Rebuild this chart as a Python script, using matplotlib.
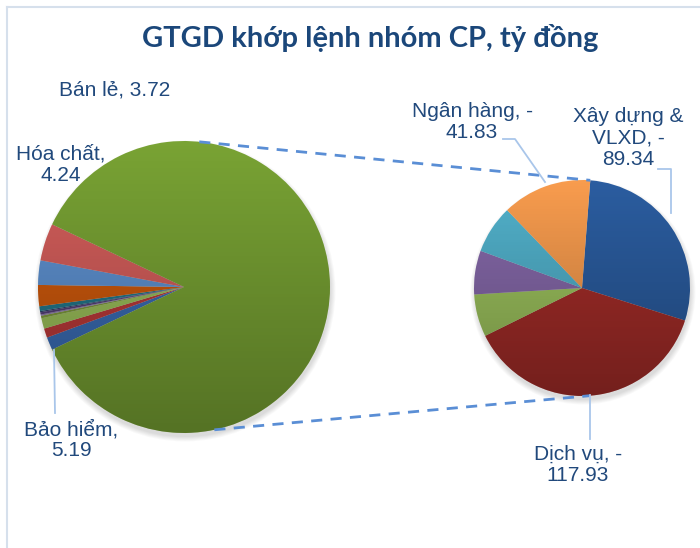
import numpy as np
import matplotlib.pyplot as plt
from matplotlib.patches import Circle

# pie phải: các nhóm được tách ra (giá trị âm, vẽ theo trị tuyệt đối)
right_names = ['Xây dựng &\nVLXD', 'Dịch vụ', '', '', '', 'Ngân hàng']
right_values = [-89.34, -117.93, -19.8, -20.4, -22.5, -41.83]
right_colors = ['#2B5DA0', '#A52D29', '#9EC45E', '#8669AA', '#52B2CC', '#F89C4E']

# pie trái: các nhóm còn lại, theo chiều kim đồng hồ từ dưới lên
left_names = ['Bảo hiểm', 'Bán lẻ', 'Hóa chất', '', '', '', '', '', '', '', '']
left_values = [5.19, 3.72, 4.24, 1.0, 0.5, 0.9, 0.5, 1.9, 8.5, 9.8, 15.0]
left_colors = ['#3B6DB5', '#BC3A3A', '#9CC05A', '#7E9B3C', '#8C7BAA', '#55407A',
               '#2E3F6B', '#23788C', '#D05A0C', '#5F93D3', '#D65F5C']
other_color = '#79A334'

txt_color = '#21497C'
lead_color = '#A9C6EA'

fig = plt.figure(figsize=(7, 5.48), dpi=100)
ax = fig.add_axes([0, 0, 1, 1])
H = 548


def shade(cx, cy, r):
    # bóng mờ phía dưới
    for k in range(6):
        ax.add_patch(Circle((cx + 1, cy - 4), r + k * 0.9, color='black',
                            alpha=0.025, lw=0, zorder=1))


def gradient(cx, cy, r):
    g = np.zeros((200, 2, 4))
    g[:, :, 3] = np.linspace(0.0, 0.3, 200)[:, None]
    im = ax.imshow(g, extent=[cx - r, cx + r, cy - r, cy + r], origin='upper',
                   zorder=3, interpolation='bilinear')
    im.set_clip_path(Circle((cx, cy), r, transform=ax.transData))


# pie trái
lc, lr = (184, H - 287), 146
other = sum(abs(v) for v in right_values)
vals_l = left_values + [other]
small_deg = 360 * sum(left_values) / sum(vals_l)
shade(*lc, lr)
w1, _ = ax.pie(vals_l, colors=left_colors + [other_color], center=lc, radius=lr,
               startangle=180 + small_deg / 2, counterclock=False,
               wedgeprops=dict(linewidth=0))
for w in w1:
    w.set_zorder(2)
gradient(*lc, lr)

# pie phải
rc, rr = (582, H - 288), 108
shade(*rc, rr)
w2, _ = ax.pie([abs(v) for v in right_values], colors=right_colors, center=rc,
               radius=rr, startangle=85.6, counterclock=False,
               wedgeprops=dict(linewidth=0))
for w in w2:
    w.set_zorder(2)
gradient(*rc, rr)

# đường nối hai pie
def pt(c, r, a):
    return c[0] + r * np.cos(np.radians(a)), c[1] + r * np.sin(np.radians(a))

for a1, a2 in [(84, 85.6), (-78, -86)]:
    p1, p2 = pt(lc, lr, a1), pt(rc, rr, a2)
    ax.plot([p1[0], p2[0]], [p1[1], p2[1]], ls=(0, (4, 3)), color='#5A8ED5',
            lw=2, zorder=4)

# nhãn
def lab(name, v, wrap):
    s = '-' if v < 0 else ''
    if wrap:
        return f'{name}, {s}\n{abs(v):.2f}'
    return f'{name}, {s}{abs(v):.2f}'

labels = [
    (lab(left_names[1], left_values[1], False), 115, 90),
    (lab(left_names[2], left_values[2], True), 61, 165),
    (lab(left_names[0], left_values[0], True), 71, 440),
    (lab(right_names[5], right_values[5], True), 472, 122),
    (lab(right_names[0], right_values[0], True), 628, 138),
    (lab(right_names[1], right_values[1], True), 578, 465),
]
for s, x, y in labels:
    ax.text(x, H - y, s.replace(', \n', ',\n'), ha='center', va='center',
            multialignment='center', fontsize=15, color=txt_color,
            family='Liberation Sans', linespacing=1.15, zorder=6)

leaders = [
    [(54, 350), (55, 413)],
    [(590, 395), (590, 439)],
    [(503, 139), (515, 139), (545, 182)],
    [(658, 169), (671, 169), (671, 213)],
]
for seg in leaders:
    xs = [p[0] for p in seg]
    ys = [H - p[1] for p in seg]
    ax.plot(xs, ys, color=lead_color, lw=1.3, zorder=5)

# khung
ax.plot([7, 7], [0, H - 7], color='#D6E0EC', lw=1.5)
ax.plot([7, 700], [H - 7, H - 7], color='#D6E0EC', lw=1.5)

ax.text(370, H - 38, 'GTGD khớp lệnh nhóm CP, tỷ đồng', ha='center', va='center',
        fontsize=21, fontweight='bold', color='#1B477A', family='Lato')

ax.set_xlim(0, 700)
ax.set_ylim(0, H)
ax.set_aspect('equal')
ax.axis('off')
fig.savefig('out.png', dpi=100)
